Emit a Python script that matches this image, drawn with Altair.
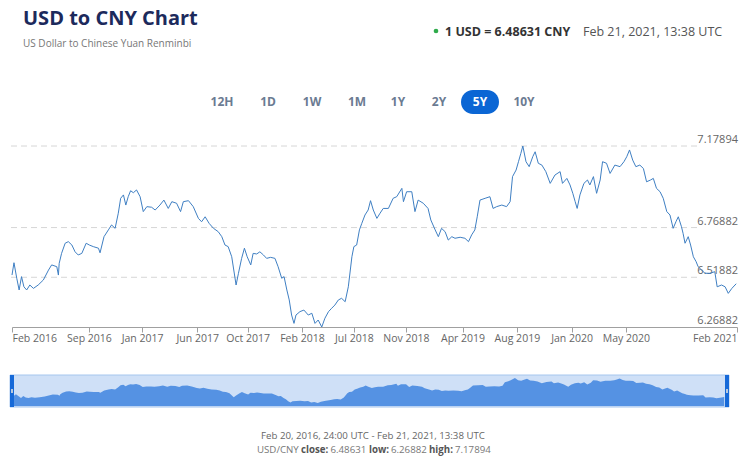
import altair as alt
import pandas as pd

# ---------------- data ----------------
start_date = "2016-02-20"
day_offsets = [0, 5, 12, 18, 24, 30, 37, 45, 54, 66, 79, 92, 100, 113, 117, 119, 125, 134, 142, 151,
               159, 167, 176, 187, 195, 205, 218, 222, 232, 243, 251, 260, 268, 274, 281, 287, 293, 299, 306, 314,
               323, 331, 340, 352, 361, 373, 383, 394, 403, 415, 425, 432, 445, 457, 470, 478, 487, 497, 508, 520,
               529, 537, 545, 554, 565, 571, 579, 586, 593, 602, 608, 617, 625, 634, 642, 652, 663, 671, 680, 686,
               693, 699, 705, 711, 716, 726, 736, 747, 756, 764, 772, 781, 789, 798, 806, 814, 823, 831, 840, 848,
               857, 862, 869, 876, 882, 890, 898, 904, 911, 920, 928, 936, 949, 961, 970, 983, 987, 995, 1008, 1016,
               1024, 1037, 1049, 1056, 1067, 1075, 1083, 1092, 1100, 1109, 1117, 1130, 1142, 1151, 1159, 1167, 1173, 1180, 1193, 1205,
               1213, 1222, 1235, 1247, 1256, 1262, 1271, 1277, 1283, 1288, 1296, 1304, 1313, 1319, 1327, 1336, 1346, 1357, 1369, 1382,
               1388, 1399, 1407, 1414, 1420, 1425, 1432, 1442, 1451, 1457, 1466, 1474, 1483, 1489, 1499, 1508, 1520, 1533, 1543, 1550,
               1557, 1565, 1573, 1583, 1592, 1600, 1610, 1617, 1625, 1634, 1642, 1651, 1659, 1667, 1674, 1680, 1688, 1692, 1697, 1705,
               1711, 1718, 1725, 1730, 1739, 1747, 1760, 1772, 1778, 1789, 1798, 1806, 1815, 1826]
usd_cny = [6.530, 6.592, 6.514, 6.455, 6.522, 6.471, 6.455, 6.480, 6.463, 6.480, 6.505, 6.555, 6.581, 6.572, 6.530, 6.589, 6.639, 6.690, 6.698, 6.681,
           6.647, 6.631, 6.639, 6.690, 6.681, 6.673, 6.665, 6.642, 6.723, 6.757, 6.782, 6.765, 6.841, 6.916, 6.933, 6.882, 6.924, 6.954, 6.944, 6.958,
           6.924, 6.849, 6.874, 6.871, 6.857, 6.882, 6.907, 6.865, 6.899, 6.891, 6.849, 6.899, 6.904, 6.874, 6.815, 6.798, 6.823, 6.790, 6.765, 6.748,
           6.723, 6.681, 6.673, 6.622, 6.480, 6.539, 6.614, 6.665, 6.622, 6.581, 6.639, 6.636, 6.647, 6.631, 6.614, 6.619, 6.614, 6.572, 6.514, 6.522,
           6.455, 6.405, 6.329, 6.287, 6.329, 6.346, 6.354, 6.329, 6.338, 6.287, 6.304, 6.26882, 6.313, 6.346, 6.363, 6.379, 6.405, 6.413, 6.396, 6.471,
           6.622, 6.673, 6.681, 6.757, 6.790, 6.832, 6.857, 6.904, 6.857, 6.815, 6.841, 6.865, 6.865, 6.916, 6.924, 6.966, 6.899, 6.949, 6.949, 6.849,
           6.907, 6.891, 6.865, 6.807, 6.757, 6.723, 6.765, 6.748, 6.706, 6.723, 6.715, 6.720, 6.715, 6.698, 6.732, 6.757, 6.823, 6.907, 6.916, 6.924,
           6.865, 6.874, 6.882, 6.874, 6.899, 7.025, 7.058, 7.100, 7.142, 7.17894, 7.100, 7.075, 7.125, 7.150, 7.092, 7.083, 7.050, 6.991, 7.033, 7.050,
           6.991, 7.016, 6.983, 6.941, 6.899, 6.865, 6.933, 6.991, 7.008, 6.983, 7.025, 6.941, 7.008, 7.100, 7.092, 7.041, 7.083, 7.075, 7.100, 7.125,
           7.159, 7.108, 7.075, 7.083, 7.066, 6.999, 7.008, 7.016, 6.966, 6.949, 6.916, 6.849, 6.832, 6.765, 6.798, 6.823, 6.773, 6.740, 6.690, 6.723,
           6.681, 6.622, 6.597, 6.572, 6.555, 6.539, 6.539, 6.547, 6.471, 6.480, 6.471, 6.438, 6.463, 6.48631]

grid_values = [6.26882, 6.51882, 6.76882, 7.17894]
grid_labels = ["6.26882", "6.51882", "6.76882", "7.17894"]
tick_dates = ["2016-02-20", "2016-09-01", "2017-01-13", "2017-06-01", "2017-10-06", "2018-02-20",
              "2018-07-01", "2018-11-09", "2019-04-01", "2019-08-16", "2020-01-01", "2020-05-17", "2021-02-21"]
range_buttons = ["12H", "1D", "1W", "1M", "1Y", "2Y", "5Y", "10Y"]
selected_range = "5Y"

title_text = "USD to CNY Chart"
subtitle_text = "US Dollar to Chinese Yuan Renminbi"
rate_text = "1 USD = 6.48631 CNY"
stamp_text = "Feb 21, 2021, 13:38 UTC"
period_text = "Feb 20, 2016, 24:00 UTC - Feb 21, 2021, 13:38 UTC"
summary_parts = ["USD/CNY", "close:", "6.48631", "low:", "6.26882", "high:", "7.17894"]
summary_bold = [False, True, False, True, False, True, False]

domain_start = "2016-02-20"
domain_end = "2021-02-21"
nav_floor = 6.16

# ---------------- build ----------------
df = pd.DataFrame({
    "date": pd.Timestamp(start_date) + pd.to_timedelta(day_offsets, unit="D"),
    "rate": usd_cny,
})
grid_df = pd.DataFrame({"v": grid_values, "label": grid_labels})


def dt(s):
    t = pd.Timestamp(s)
    return alt.DateTime(year=t.year, month=t.month, date=t.day)


xdom = [dt(domain_start), dt(domain_end)]
ydom = [min(grid_values), max(grid_values)]
tick_vals = [dt(s) for s in tick_dates]

W, H = 725, 181
FONT = "Open Sans"
LINE_BLUE = "#3f7fc3"


def one(s):
    return pd.DataFrame({"t": [s]})


def txt(s, x, y, size, color, weight="normal", align="left", baseline="alphabetic"):
    return alt.Chart(one(s)).mark_text(
        align=align, baseline=baseline, fontSize=size, fontWeight=weight,
        color=color, font=FONT
    ).encode(text="t:N", x=alt.value(x), y=alt.value(y))


def box(x, x2, y, y2, **kw):
    return alt.Chart(one("")).mark_rect(**kw).encode(
        x=alt.value(x), x2=alt.value(x2), y=alt.value(y), y2=alt.value(y2))


y_scale = alt.Scale(domain=ydom, zero=False, nice=False)
x_scale = alt.Scale(domain=xdom)

grid = alt.Chart(grid_df).transform_filter(
    alt.datum.v > min(grid_values)
).mark_rule(color="#d6d6d6", strokeDash=[6, 4], strokeWidth=1).encode(
    y=alt.Y("v:Q", scale=y_scale, axis=None),
    x=alt.value(-1), x2=alt.value(686),
)

ylabels = alt.Chart(grid_df).mark_text(
    align="right", baseline="middle", dy=-6, fontSize=11, color="#666666", font=FONT
).encode(
    y=alt.Y("v:Q", scale=y_scale, axis=None),
    x=alt.value(726),
    text="label:N",
)

line = alt.Chart(df).mark_line(color=LINE_BLUE, strokeWidth=1).encode(
    x=alt.X("date:T", scale=x_scale, title=None,
            axis=alt.Axis(values=tick_vals, format="%b %Y", labelFlush=True, grid=False,
                          domainColor="#a0a0a0", tickColor="#a0a0a0", tickSize=5,
                          labelColor="#666666", labelFont=FONT, labelFontSize=10.5,
                          labelPadding=1, labelOverlap=False)),
    y=alt.Y("rate:Q", scale=y_scale, axis=None),
)

main = alt.layer(grid, ylabels, line)

# navigator
nav_bg = box(-2, 717, 229, 261, fill="#cfe0f7", stroke="#a6c6ee", strokeWidth=1)
nav_area = alt.Chart(df).mark_area(color="#5592e3", opacity=1).encode(
    x=alt.X("date:T", scale=alt.Scale(domain=xdom, range=[2, 713]), axis=None),
    y=alt.Y("rate:Q", scale=alt.Scale(domain=[nav_floor, max(grid_values)], range=[260, 232],
                                      zero=False, nice=False), axis=None),
    y2=alt.datum(nav_floor),
)
h_left = box(-2, 2, 229, 261, fill="#1669d8")
h_right = box(713, 717, 229, 261, fill="#1669d8")
g_left = box(-1, 1, 243, 247, fill="#b9c9dd")
g_right = box(714, 716, 243, 247, fill="#b9c9dd")

# header
header = [
    txt(title_text, 11, -121, 20, "#1c2a5c", weight="bold"),
    txt(subtitle_text, 11, -99.5, 10, "#777777"),
    alt.Chart(one("")).mark_circle(color="#2fab4b", size=22, opacity=1).encode(
        x=alt.value(424), y=alt.value(-115)),
    txt(rate_text, 433, -110, 12.5, "#333333", weight="bold"),
    txt(stamp_text, 571, -110, 12.5, "#555555"),
]

button_x = [210, 256, 300, 345, 386, 427, 468, 512]
buttons = []
for lab, bx in zip(range_buttons, button_x):
    if lab == selected_range:
        buttons.append(box(bx - 19, bx + 19, -56, -32, fill="#0b66d4", cornerRadius=12))
        buttons.append(txt(lab, bx, -44, 12, "#ffffff", weight="bold", align="center", baseline="middle"))
    else:
        buttons.append(txt(lab, bx, -44, 12, "#6b7b92", weight="bold", align="center", baseline="middle"))

# footer
footer = [txt(period_text, 361, 292.5, 9.7, "#666666", align="center")]
summary_x = [245, 289, 318.5, 357, 379, 417, 443]
for part, bold, sx in zip(summary_parts, summary_bold, summary_x):
    footer.append(txt(part, sx, 306.5, 9.7, "#555555" if bold else "#777777",
                      weight="bold" if bold else "normal"))

chart = alt.layer(
    *header, *buttons, main, nav_bg, nav_area, h_left, h_right, g_left, g_right, *footer
).resolve_scale(x="independent", y="independent").properties(
    width=W, height=H,
    padding={"left": 12, "top": 146, "right": 14, "bottom": 146},
    autosize=alt.AutoSizeParams(type="none"),
    background="white",
).configure_view(stroke=None)

chart.save("out.html", embed_options={"renderer": "svg", "actions": False})
